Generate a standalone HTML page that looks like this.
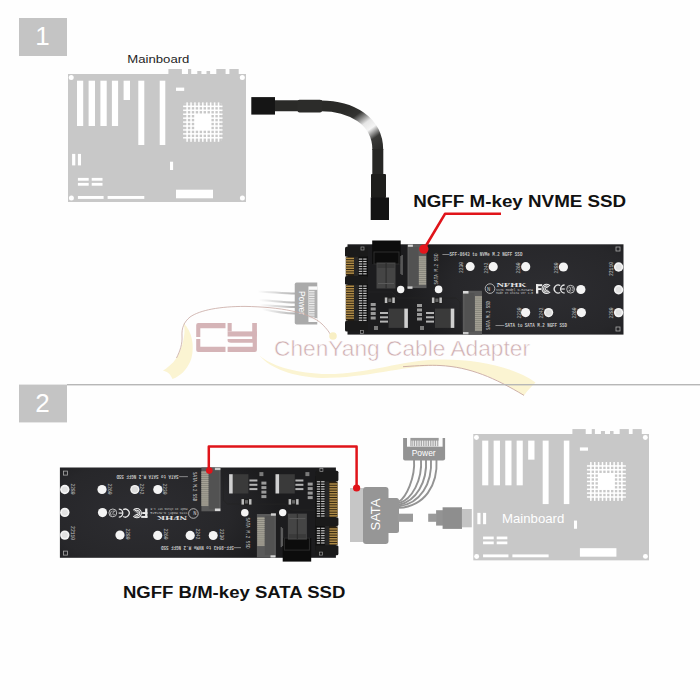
<!DOCTYPE html>
<html><head><meta charset="utf-8"><style>
html,body{margin:0;padding:0;background:#fefefe;}
body{width:700px;height:700px;overflow:hidden;position:relative;}
svg{position:absolute;left:0;top:0;display:block;}
</style></head><body>
<svg width="700" height="700" viewBox="0 0 700 700">
<defs>
<radialGradient id="pcbg" gradientUnits="userSpaceOnUse" cx="545" cy="289" r="140" gradientTransform="translate(545 289) scale(1 0.55) translate(-545 -289)">
<stop offset="0" stop-color="#2d2d31"/>
<stop offset="0.65" stop-color="#27272a"/>
<stop offset="1" stop-color="#1c1c1e"/>
</radialGradient>
<linearGradient id="wfade" x1="0" y1="0" x2="1" y2="0">
<stop offset="0" stop-color="#a0a0a0" stop-opacity="0"/>
<stop offset="1" stop-color="#a0a0a0" stop-opacity="1"/>
</linearGradient>
</defs>
<rect x="0" y="0" width="700" height="700" fill="#fefefe"/>

<!-- Section 1 -->
<rect x="19" y="18" width="48" height="38" fill="#c4c4c4"/>
<text x="42.5" y="45" font-size="26" font-family="Liberation Sans, sans-serif" fill="#ffffff" text-anchor="middle">1</text>
<text x="127.3" y="63" font-size="11.6" font-family="Liberation Sans, sans-serif" fill="#1e1e1e" textLength="62.1" lengthAdjust="spacingAndGlyphs">Mainboard</text>
<g transform="translate(68 74)">
<rect x="0.00" y="0.00" width="178.00" height="128.00" fill="#c8c8c8" />
<rect x="100.40" y="-5.00" width="13.50" height="5.50" fill="#c8c8c8" />
<rect x="120.00" y="-5.00" width="3.20" height="5.50" fill="#c8c8c8" />
<rect x="129.30" y="-3.00" width="4.10" height="3.50" fill="#c8c8c8" />
<rect x="138.50" y="-3.00" width="3.60" height="3.50" fill="#c8c8c8" />
<rect x="148.30" y="-5.00" width="9.30" height="5.50" fill="#c8c8c8" />
<rect x="161.40" y="-5.00" width="9.30" height="5.50" fill="#c8c8c8" />
<circle cx="3.2" cy="3.5" r="2.5" fill="#ffffff"/>
<circle cx="174.3" cy="3.5" r="2.5" fill="#ffffff"/>
<circle cx="3.4" cy="124.1" r="2.5" fill="#ffffff"/>
<circle cx="174.4" cy="124" r="2.5" fill="#ffffff"/>
<rect x="9.00" y="6.70" width="6.20" height="45.30" fill="#ffffff" />
<rect x="20.60" y="6.70" width="6.40" height="45.30" fill="#ffffff" />
<rect x="32.40" y="6.70" width="6.30" height="45.30" fill="#ffffff" />
<rect x="43.90" y="6.70" width="6.20" height="45.30" fill="#ffffff" />
<rect x="55.60" y="6.70" width="6.40" height="19.30" fill="#ffffff" />
<rect x="70.30" y="6.70" width="6.00" height="64.30" fill="#ffffff" />
<rect x="91.70" y="6.70" width="5.60" height="64.30" fill="#ffffff" />
<rect x="108.00" y="13.60" width="8.20" height="3.30" fill="#ffffff" />
<rect x="4.10" y="79.90" width="3.20" height="11.50" fill="#ffffff" />
<rect x="9.90" y="79.90" width="3.10" height="11.50" fill="#ffffff" />
<rect x="9.90" y="103.90" width="10.80" height="2.80" fill="#ffffff" />
<rect x="9.90" y="108.90" width="10.80" height="2.80" fill="#ffffff" />
<rect x="23.70" y="103.90" width="10.80" height="2.80" fill="#ffffff" />
<rect x="23.70" y="108.90" width="10.80" height="2.80" fill="#ffffff" />
<rect x="9.90" y="122.00" width="25.70" height="2.90" fill="#ffffff" />
<rect x="39.60" y="122.00" width="36.70" height="2.90" fill="#ffffff" />
<rect x="102.00" y="87.70" width="3.10" height="8.30" fill="#ffffff" />
<rect x="108.00" y="115.70" width="37.00" height="8.60" fill="#ffffff" />
<rect x="116.14" y="29.40" width="37.37" height="37.37" fill="#ffffff" />
<rect x="118.30" y="28.40" width="1.60" height="39.37" fill="#ffffff" />
<rect x="115.14" y="31.57" width="39.37" height="1.60" fill="#ffffff" />
<rect x="122.23" y="28.40" width="1.60" height="39.37" fill="#ffffff" />
<rect x="115.14" y="35.50" width="39.37" height="1.60" fill="#ffffff" />
<rect x="126.16" y="28.40" width="1.60" height="39.37" fill="#ffffff" />
<rect x="115.14" y="39.43" width="39.37" height="1.60" fill="#ffffff" />
<rect x="130.09" y="28.40" width="1.60" height="39.37" fill="#ffffff" />
<rect x="115.14" y="43.36" width="39.37" height="1.60" fill="#ffffff" />
<rect x="134.02" y="28.40" width="1.60" height="39.37" fill="#ffffff" />
<rect x="115.14" y="47.29" width="39.37" height="1.60" fill="#ffffff" />
<rect x="137.95" y="28.40" width="1.60" height="39.37" fill="#ffffff" />
<rect x="115.14" y="51.22" width="39.37" height="1.60" fill="#ffffff" />
<rect x="141.88" y="28.40" width="1.60" height="39.37" fill="#ffffff" />
<rect x="115.14" y="55.15" width="39.37" height="1.60" fill="#ffffff" />
<rect x="145.81" y="28.40" width="1.60" height="39.37" fill="#ffffff" />
<rect x="115.14" y="59.08" width="39.37" height="1.60" fill="#ffffff" />
<rect x="149.74" y="28.40" width="1.60" height="39.37" fill="#ffffff" />
<rect x="115.14" y="63.01" width="39.37" height="1.60" fill="#ffffff" />
<rect x="115.94" y="29.20" width="2.40" height="2.40" fill="#c8c8c8" />
<rect x="115.94" y="33.13" width="2.40" height="2.40" fill="#c8c8c8" />
<rect x="115.94" y="37.06" width="2.40" height="2.40" fill="#c8c8c8" />
<rect x="115.94" y="40.99" width="2.40" height="2.40" fill="#c8c8c8" />
<rect x="115.94" y="44.92" width="2.40" height="2.40" fill="#c8c8c8" />
<rect x="115.94" y="48.85" width="2.40" height="2.40" fill="#c8c8c8" />
<rect x="115.94" y="52.78" width="2.40" height="2.40" fill="#c8c8c8" />
<rect x="115.94" y="56.71" width="2.40" height="2.40" fill="#c8c8c8" />
<rect x="115.94" y="60.64" width="2.40" height="2.40" fill="#c8c8c8" />
<rect x="115.94" y="64.57" width="2.40" height="2.40" fill="#c8c8c8" />
<rect x="119.87" y="29.20" width="2.40" height="2.40" fill="#c8c8c8" />
<rect x="119.87" y="33.13" width="2.40" height="2.40" fill="#c8c8c8" />
<rect x="119.87" y="37.06" width="2.40" height="2.40" fill="#c8c8c8" />
<rect x="119.87" y="40.99" width="2.40" height="2.40" fill="#c8c8c8" />
<rect x="119.87" y="44.92" width="2.40" height="2.40" fill="#c8c8c8" />
<rect x="119.87" y="48.85" width="2.40" height="2.40" fill="#c8c8c8" />
<rect x="119.87" y="52.78" width="2.40" height="2.40" fill="#c8c8c8" />
<rect x="119.87" y="56.71" width="2.40" height="2.40" fill="#c8c8c8" />
<rect x="119.87" y="60.64" width="2.40" height="2.40" fill="#c8c8c8" />
<rect x="119.87" y="64.57" width="2.40" height="2.40" fill="#c8c8c8" />
<rect x="123.80" y="29.20" width="2.40" height="2.40" fill="#c8c8c8" />
<rect x="123.80" y="33.13" width="2.40" height="2.40" fill="#c8c8c8" />
<rect x="123.80" y="37.06" width="2.40" height="2.40" fill="#c8c8c8" />
<rect x="123.80" y="40.99" width="2.40" height="2.40" fill="#c8c8c8" />
<rect x="123.80" y="44.92" width="2.40" height="2.40" fill="#c8c8c8" />
<rect x="123.80" y="48.85" width="2.40" height="2.40" fill="#c8c8c8" />
<rect x="123.80" y="52.78" width="2.40" height="2.40" fill="#c8c8c8" />
<rect x="123.80" y="56.71" width="2.40" height="2.40" fill="#c8c8c8" />
<rect x="123.80" y="60.64" width="2.40" height="2.40" fill="#c8c8c8" />
<rect x="123.80" y="64.57" width="2.40" height="2.40" fill="#c8c8c8" />
<rect x="127.73" y="29.20" width="2.40" height="2.40" fill="#c8c8c8" />
<rect x="127.73" y="33.13" width="2.40" height="2.40" fill="#c8c8c8" />
<rect x="127.73" y="37.06" width="2.40" height="2.40" fill="#c8c8c8" />
<rect x="127.73" y="56.71" width="2.40" height="2.40" fill="#c8c8c8" />
<rect x="127.73" y="60.64" width="2.40" height="2.40" fill="#c8c8c8" />
<rect x="127.73" y="64.57" width="2.40" height="2.40" fill="#c8c8c8" />
<rect x="131.66" y="29.20" width="2.40" height="2.40" fill="#c8c8c8" />
<rect x="131.66" y="33.13" width="2.40" height="2.40" fill="#c8c8c8" />
<rect x="131.66" y="37.06" width="2.40" height="2.40" fill="#c8c8c8" />
<rect x="131.66" y="56.71" width="2.40" height="2.40" fill="#c8c8c8" />
<rect x="131.66" y="60.64" width="2.40" height="2.40" fill="#c8c8c8" />
<rect x="131.66" y="64.57" width="2.40" height="2.40" fill="#c8c8c8" />
<rect x="135.59" y="29.20" width="2.40" height="2.40" fill="#c8c8c8" />
<rect x="135.59" y="33.13" width="2.40" height="2.40" fill="#c8c8c8" />
<rect x="135.59" y="37.06" width="2.40" height="2.40" fill="#c8c8c8" />
<rect x="135.59" y="56.71" width="2.40" height="2.40" fill="#c8c8c8" />
<rect x="135.59" y="60.64" width="2.40" height="2.40" fill="#c8c8c8" />
<rect x="135.59" y="64.57" width="2.40" height="2.40" fill="#c8c8c8" />
<rect x="139.52" y="29.20" width="2.40" height="2.40" fill="#c8c8c8" />
<rect x="139.52" y="33.13" width="2.40" height="2.40" fill="#c8c8c8" />
<rect x="139.52" y="37.06" width="2.40" height="2.40" fill="#c8c8c8" />
<rect x="139.52" y="56.71" width="2.40" height="2.40" fill="#c8c8c8" />
<rect x="139.52" y="60.64" width="2.40" height="2.40" fill="#c8c8c8" />
<rect x="139.52" y="64.57" width="2.40" height="2.40" fill="#c8c8c8" />
<rect x="143.45" y="29.20" width="2.40" height="2.40" fill="#c8c8c8" />
<rect x="143.45" y="33.13" width="2.40" height="2.40" fill="#c8c8c8" />
<rect x="143.45" y="37.06" width="2.40" height="2.40" fill="#c8c8c8" />
<rect x="143.45" y="40.99" width="2.40" height="2.40" fill="#c8c8c8" />
<rect x="143.45" y="44.92" width="2.40" height="2.40" fill="#c8c8c8" />
<rect x="143.45" y="48.85" width="2.40" height="2.40" fill="#c8c8c8" />
<rect x="143.45" y="52.78" width="2.40" height="2.40" fill="#c8c8c8" />
<rect x="143.45" y="56.71" width="2.40" height="2.40" fill="#c8c8c8" />
<rect x="143.45" y="60.64" width="2.40" height="2.40" fill="#c8c8c8" />
<rect x="143.45" y="64.57" width="2.40" height="2.40" fill="#c8c8c8" />
<rect x="147.38" y="29.20" width="2.40" height="2.40" fill="#c8c8c8" />
<rect x="147.38" y="33.13" width="2.40" height="2.40" fill="#c8c8c8" />
<rect x="147.38" y="37.06" width="2.40" height="2.40" fill="#c8c8c8" />
<rect x="147.38" y="40.99" width="2.40" height="2.40" fill="#c8c8c8" />
<rect x="147.38" y="44.92" width="2.40" height="2.40" fill="#c8c8c8" />
<rect x="147.38" y="48.85" width="2.40" height="2.40" fill="#c8c8c8" />
<rect x="147.38" y="52.78" width="2.40" height="2.40" fill="#c8c8c8" />
<rect x="147.38" y="56.71" width="2.40" height="2.40" fill="#c8c8c8" />
<rect x="147.38" y="60.64" width="2.40" height="2.40" fill="#c8c8c8" />
<rect x="147.38" y="64.57" width="2.40" height="2.40" fill="#c8c8c8" />
<rect x="151.31" y="29.20" width="2.40" height="2.40" fill="#c8c8c8" />
<rect x="151.31" y="33.13" width="2.40" height="2.40" fill="#c8c8c8" />
<rect x="151.31" y="37.06" width="2.40" height="2.40" fill="#c8c8c8" />
<rect x="151.31" y="40.99" width="2.40" height="2.40" fill="#c8c8c8" />
<rect x="151.31" y="44.92" width="2.40" height="2.40" fill="#c8c8c8" />
<rect x="151.31" y="48.85" width="2.40" height="2.40" fill="#c8c8c8" />
<rect x="151.31" y="52.78" width="2.40" height="2.40" fill="#c8c8c8" />
<rect x="151.31" y="56.71" width="2.40" height="2.40" fill="#c8c8c8" />
<rect x="151.31" y="60.64" width="2.40" height="2.40" fill="#c8c8c8" />
<rect x="151.31" y="64.57" width="2.40" height="2.40" fill="#c8c8c8" />
</g>

<!-- cable -->
<linearGradient id="hl" gradientUnits="userSpaceOnUse" x1="350" y1="106" x2="382" y2="150">
<stop offset="0" stop-color="#2a2a28"/>
<stop offset="0.2" stop-color="#333331"/>
<stop offset="0.42" stop-color="#e6e6e6"/>
<stop offset="0.56" stop-color="#f4f4f4"/>
<stop offset="0.74" stop-color="#3a3a38"/>
<stop offset="1" stop-color="#272725"/>
</linearGradient>
<path d="M272 105.8 L322 105.8" stroke="#2a2a28" stroke-width="11" fill="none"/>
<path d="M321 105.8 C350 105.8 377.8 120 377.8 150" stroke="url(#hl)" stroke-width="10.8" fill="none"/>
<path d="M377.8 149 L377.8 176" stroke="#272725" stroke-width="11" fill="none"/>
<rect x="297.5" y="99.7" width="24.5" height="12.8" rx="2" fill="#2c2c2a"/>
<rect x="371" y="174" width="15" height="24" rx="1" fill="#1e1e1c"/>
<rect x="251.3" y="97.1" width="23.7" height="17.5" fill="#151515"/>
<rect x="370.7" y="197.5" width="18.3" height="22.5" fill="#131313"/>
<!-- heading 1 -->
<text x="413.2" y="207.4" font-size="17.2" font-weight="bold" font-family="Liberation Sans, sans-serif" fill="#111" textLength="213" lengthAdjust="spacingAndGlyphs">NGFF M-key NVME SSD</text>

<!-- power conn 1 -->
<g opacity="0.78">
<path d="M258 291.5 C272 292 284 293.5 295 293.5" stroke="url(#wfade)" stroke-width="2" fill="none"/>
<path d="M259 300 C274 301 285 302.5 295 302.5" stroke="url(#wfade)" stroke-width="2" fill="none"/>
<path d="M260 305 C275 306 285 307 295 307" stroke="url(#wfade)" stroke-width="2" fill="none"/>
<path d="M262 309 C276 312 286 313.5 295 313.5" stroke="url(#wfade)" stroke-width="2" fill="none"/>
<g transform="translate(306 303.5) rotate(90) translate(-424.1 -449.15)">
<path d="M403.1 437.9 L445.1 437.9 L445.1 458.5 Q445.1 460.4 443 460.4 L405 460.4 Q403.1 460.4 403.1 458.5 Z" fill="#939393"/>
<rect x="407" y="437.9" width="35.6" height="8.8" fill="#fafafa"/>
<rect x="410.4" y="437.9" width="28.3" height="8.4" fill="#9a9a9a"/>
<rect x="411.50" y="440.6" width="0.9" height="5.6" fill="#f2f2f2"/>
<rect x="413.25" y="440.6" width="0.9" height="5.6" fill="#f2f2f2"/>
<rect x="415.00" y="440.6" width="0.9" height="5.6" fill="#f2f2f2"/>
<rect x="416.75" y="440.6" width="0.9" height="5.6" fill="#f2f2f2"/>
<rect x="418.50" y="440.6" width="0.9" height="5.6" fill="#f2f2f2"/>
<rect x="420.25" y="440.6" width="0.9" height="5.6" fill="#f2f2f2"/>
<rect x="422.00" y="440.6" width="0.9" height="5.6" fill="#f2f2f2"/>
<rect x="423.75" y="440.6" width="0.9" height="5.6" fill="#f2f2f2"/>
<rect x="425.50" y="440.6" width="0.9" height="5.6" fill="#f2f2f2"/>
<rect x="427.25" y="440.6" width="0.9" height="5.6" fill="#f2f2f2"/>
<rect x="429.00" y="440.6" width="0.9" height="5.6" fill="#f2f2f2"/>
<rect x="430.75" y="440.6" width="0.9" height="5.6" fill="#f2f2f2"/>
<rect x="432.50" y="440.6" width="0.9" height="5.6" fill="#f2f2f2"/>
<rect x="434.25" y="440.6" width="0.9" height="5.6" fill="#f2f2f2"/>
<rect x="436.00" y="440.6" width="0.9" height="5.6" fill="#f2f2f2"/>
<rect x="437.75" y="440.6" width="0.9" height="5.6" fill="#f2f2f2"/>
<text x="411.7" y="456.1" font-size="8.4" font-family="Liberation Sans, sans-serif" fill="#ffffff" textLength="24" lengthAdjust="spacingAndGlyphs">Power</text>
</g>
</g>
<!-- PCB 1 -->
<g>
<rect x="347.50" y="244.30" width="276.00" height="90.30" fill="url(#pcbg)" />
<path d="M349 292 L392 292 L398 298 L456 298 L460 302 L460 334" stroke="#242424" stroke-width="0.8" fill="none"/>
<rect x="353.80" y="252.00" width="14.20" height="74.00" fill="#0e0e0e" />
<rect x="354.00" y="256.00" width="4.30" height="65.00" fill="#262626" />
<rect x="345.00" y="246.80" width="23.00" height="10.00" fill="#1a1a1a" rx="1.5"/>
<rect x="345.00" y="276.00" width="23.00" height="8.80" fill="#1a1a1a" rx="1.5"/>
<rect x="345.00" y="320.80" width="23.00" height="10.60" fill="#1a1a1a" rx="1.5"/>
<rect x="345.80" y="257.20" width="8.20" height="18.60" fill="#2a2010" />
<rect x="345.80" y="257.70" width="8.20" height="1.50" fill="#b08c48" />
<rect x="345.80" y="260.15" width="8.20" height="1.50" fill="#b08c48" />
<rect x="345.80" y="262.60" width="8.20" height="1.50" fill="#b08c48" />
<rect x="345.80" y="265.05" width="8.20" height="1.50" fill="#b08c48" />
<rect x="345.80" y="267.50" width="8.20" height="1.50" fill="#b08c48" />
<rect x="345.80" y="269.95" width="8.20" height="1.50" fill="#b08c48" />
<rect x="345.80" y="272.40" width="8.20" height="1.50" fill="#b08c48" />
<rect x="345.80" y="285.00" width="8.20" height="35.60" fill="#2a2010" />
<rect x="345.80" y="285.50" width="8.20" height="1.50" fill="#b08c48" />
<rect x="345.80" y="287.95" width="8.20" height="1.50" fill="#b08c48" />
<rect x="345.80" y="290.40" width="8.20" height="1.50" fill="#b08c48" />
<rect x="345.80" y="292.85" width="8.20" height="1.50" fill="#b08c48" />
<rect x="345.80" y="295.30" width="8.20" height="1.50" fill="#b08c48" />
<rect x="345.80" y="297.75" width="8.20" height="1.50" fill="#b08c48" />
<rect x="345.80" y="300.20" width="8.20" height="1.50" fill="#b08c48" />
<rect x="345.80" y="302.65" width="8.20" height="1.50" fill="#b08c48" />
<rect x="345.80" y="305.10" width="8.20" height="1.50" fill="#b08c48" />
<rect x="345.80" y="307.55" width="8.20" height="1.50" fill="#b08c48" />
<rect x="345.80" y="310.00" width="8.20" height="1.50" fill="#b08c48" />
<rect x="345.80" y="312.45" width="8.20" height="1.50" fill="#b08c48" />
<rect x="345.80" y="314.90" width="8.20" height="1.50" fill="#b08c48" />
<rect x="345.80" y="317.35" width="8.20" height="1.50" fill="#b08c48" />
<rect x="358.80" y="258.50" width="3.50" height="1.20" fill="#c4c4c4" />
<rect x="363.20" y="258.50" width="3.40" height="1.20" fill="#c4c4c4" />
<rect x="358.80" y="260.95" width="3.50" height="1.20" fill="#c4c4c4" />
<rect x="363.20" y="260.95" width="3.40" height="1.20" fill="#c4c4c4" />
<rect x="358.80" y="263.40" width="3.50" height="1.20" fill="#c4c4c4" />
<rect x="363.20" y="263.40" width="3.40" height="1.20" fill="#c4c4c4" />
<rect x="358.80" y="265.85" width="3.50" height="1.20" fill="#c4c4c4" />
<rect x="363.20" y="265.85" width="3.40" height="1.20" fill="#c4c4c4" />
<rect x="358.80" y="268.30" width="3.50" height="1.20" fill="#c4c4c4" />
<rect x="363.20" y="268.30" width="3.40" height="1.20" fill="#c4c4c4" />
<rect x="358.80" y="270.75" width="3.50" height="1.20" fill="#c4c4c4" />
<rect x="363.20" y="270.75" width="3.40" height="1.20" fill="#c4c4c4" />
<rect x="358.80" y="273.20" width="3.50" height="1.20" fill="#c4c4c4" />
<rect x="363.20" y="273.20" width="3.40" height="1.20" fill="#c4c4c4" />
<rect x="358.80" y="285.45" width="3.50" height="1.20" fill="#c4c4c4" />
<rect x="363.20" y="285.45" width="3.40" height="1.20" fill="#c4c4c4" />
<rect x="358.80" y="287.90" width="3.50" height="1.20" fill="#c4c4c4" />
<rect x="363.20" y="287.90" width="3.40" height="1.20" fill="#c4c4c4" />
<rect x="358.80" y="290.35" width="3.50" height="1.20" fill="#c4c4c4" />
<rect x="363.20" y="290.35" width="3.40" height="1.20" fill="#c4c4c4" />
<rect x="358.80" y="292.80" width="3.50" height="1.20" fill="#c4c4c4" />
<rect x="363.20" y="292.80" width="3.40" height="1.20" fill="#c4c4c4" />
<rect x="358.80" y="295.25" width="3.50" height="1.20" fill="#c4c4c4" />
<rect x="363.20" y="295.25" width="3.40" height="1.20" fill="#c4c4c4" />
<rect x="358.80" y="297.70" width="3.50" height="1.20" fill="#c4c4c4" />
<rect x="363.20" y="297.70" width="3.40" height="1.20" fill="#c4c4c4" />
<rect x="358.80" y="300.15" width="3.50" height="1.20" fill="#c4c4c4" />
<rect x="363.20" y="300.15" width="3.40" height="1.20" fill="#c4c4c4" />
<rect x="358.80" y="302.60" width="3.50" height="1.20" fill="#c4c4c4" />
<rect x="363.20" y="302.60" width="3.40" height="1.20" fill="#c4c4c4" />
<rect x="358.80" y="305.05" width="3.50" height="1.20" fill="#c4c4c4" />
<rect x="363.20" y="305.05" width="3.40" height="1.20" fill="#c4c4c4" />
<rect x="358.80" y="307.50" width="3.50" height="1.20" fill="#c4c4c4" />
<rect x="363.20" y="307.50" width="3.40" height="1.20" fill="#c4c4c4" />
<rect x="358.80" y="309.95" width="3.50" height="1.20" fill="#c4c4c4" />
<rect x="363.20" y="309.95" width="3.40" height="1.20" fill="#c4c4c4" />
<rect x="358.80" y="312.40" width="3.50" height="1.20" fill="#c4c4c4" />
<rect x="363.20" y="312.40" width="3.40" height="1.20" fill="#c4c4c4" />
<rect x="358.80" y="314.85" width="3.50" height="1.20" fill="#c4c4c4" />
<rect x="363.20" y="314.85" width="3.40" height="1.20" fill="#c4c4c4" />
<rect x="358.80" y="317.30" width="3.50" height="1.20" fill="#c4c4c4" />
<rect x="363.20" y="317.30" width="3.40" height="1.20" fill="#c4c4c4" />
<rect x="358.80" y="319.75" width="3.50" height="1.20" fill="#c4c4c4" />
<rect x="363.20" y="319.75" width="3.40" height="1.20" fill="#c4c4c4" />
<rect x="361.00" y="247.00" width="3.00" height="3.00" fill="none" stroke="#999" stroke-width="0.7"/>
<rect x="360.50" y="330.50" width="3.00" height="3.00" fill="none" stroke="#999" stroke-width="0.7"/>
<rect x="372.20" y="240.50" width="28.50" height="23.50" fill="#0c0c0c" />
<rect x="374.00" y="252.00" width="25.00" height="12.00" fill="none" stroke="#2c2c2c" stroke-width="1"/>
<rect x="376.50" y="262.50" width="19.00" height="26.00" fill="#454545" />
<rect x="377.50" y="264.00" width="17.00" height="4.00" fill="#3a3a3a" />
<rect x="385.60" y="263.00" width="1.00" height="25.50" fill="#2a2a2a" />
<rect x="378.00" y="283.00" width="16.00" height="1.00" fill="#5a5a5a" />
<rect x="401.50" y="255.00" width="1.20" height="20.00" fill="#6a6a6a" />
<rect x="407.50" y="244.60" width="19.00" height="43.50" fill="#5a5a5a" />
<rect x="409.00" y="247.00" width="9.50" height="39.00" fill="#525252" />
<rect x="418.90" y="256.00" width="7.20" height="29.00" fill="#8a887e" />
<rect x="418.90" y="256.60" width="7.20" height="0.90" fill="#aaa69a" />
<rect x="418.90" y="258.65" width="7.20" height="0.90" fill="#aaa69a" />
<rect x="418.90" y="260.70" width="7.20" height="0.90" fill="#aaa69a" />
<rect x="418.90" y="262.75" width="7.20" height="0.90" fill="#aaa69a" />
<rect x="418.90" y="264.80" width="7.20" height="0.90" fill="#aaa69a" />
<rect x="418.90" y="266.85" width="7.20" height="0.90" fill="#aaa69a" />
<rect x="418.90" y="268.90" width="7.20" height="0.90" fill="#aaa69a" />
<rect x="418.90" y="270.95" width="7.20" height="0.90" fill="#aaa69a" />
<rect x="418.90" y="273.00" width="7.20" height="0.90" fill="#aaa69a" />
<rect x="418.90" y="275.05" width="7.20" height="0.90" fill="#aaa69a" />
<rect x="418.90" y="277.10" width="7.20" height="0.90" fill="#aaa69a" />
<rect x="418.90" y="279.15" width="7.20" height="0.90" fill="#aaa69a" />
<rect x="418.90" y="281.20" width="7.20" height="0.90" fill="#aaa69a" />
<rect x="418.90" y="283.25" width="7.20" height="0.90" fill="#aaa69a" />
<rect x="407.90" y="244.60" width="5.00" height="2.20" fill="#d8d8d8" />
<rect x="407.50" y="286.40" width="5.00" height="2.40" fill="#d0d0d0" />
<rect x="462.80" y="290.80" width="19.20" height="43.80" fill="#5a5a5a" />
<rect x="464.50" y="293.00" width="10.00" height="39.00" fill="#525252" />
<rect x="475.00" y="296.00" width="7.00" height="35.00" fill="#8a887e" />
<rect x="475.00" y="296.60" width="7.00" height="0.90" fill="#aaa69a" />
<rect x="475.00" y="298.65" width="7.00" height="0.90" fill="#aaa69a" />
<rect x="475.00" y="300.70" width="7.00" height="0.90" fill="#aaa69a" />
<rect x="475.00" y="302.75" width="7.00" height="0.90" fill="#aaa69a" />
<rect x="475.00" y="304.80" width="7.00" height="0.90" fill="#aaa69a" />
<rect x="475.00" y="306.85" width="7.00" height="0.90" fill="#aaa69a" />
<rect x="475.00" y="308.90" width="7.00" height="0.90" fill="#aaa69a" />
<rect x="475.00" y="310.95" width="7.00" height="0.90" fill="#aaa69a" />
<rect x="475.00" y="313.00" width="7.00" height="0.90" fill="#aaa69a" />
<rect x="475.00" y="315.05" width="7.00" height="0.90" fill="#aaa69a" />
<rect x="475.00" y="317.10" width="7.00" height="0.90" fill="#aaa69a" />
<rect x="475.00" y="319.15" width="7.00" height="0.90" fill="#aaa69a" />
<rect x="475.00" y="321.20" width="7.00" height="0.90" fill="#aaa69a" />
<rect x="475.00" y="323.25" width="7.00" height="0.90" fill="#aaa69a" />
<rect x="475.00" y="325.30" width="7.00" height="0.90" fill="#aaa69a" />
<rect x="475.00" y="327.35" width="7.00" height="0.90" fill="#aaa69a" />
<rect x="475.00" y="329.40" width="7.00" height="0.90" fill="#aaa69a" />
<rect x="463.00" y="291.00" width="5.50" height="2.60" fill="#d8d8d8" />
<rect x="463.00" y="332.00" width="5.50" height="2.40" fill="#c8c8c8" />
<rect x="400.30" y="256.00" width="1.60" height="18.00" fill="#5a5a5a" />
<rect x="388.60" y="308.60" width="15.70" height="19.30" fill="#3a3a3a" />
<rect x="404.30" y="308.60" width="3.60" height="19.30" fill="#d0d0d0" />
<rect x="435.00" y="308.60" width="15.70" height="19.30" fill="#3a3a3a" />
<rect x="450.70" y="308.60" width="3.60" height="19.30" fill="#d0d0d0" />
<rect x="384.30" y="297.00" width="11.00" height="6.50" fill="#202020" />
<rect x="384.80" y="297.50" width="2.50" height="5.50" fill="#bdbdbd" />
<rect x="392.30" y="297.50" width="2.50" height="5.50" fill="#bdbdbd" />
<rect x="388.30" y="298.50" width="3.00" height="3.50" fill="#666" />
<rect x="431.40" y="297.00" width="11.00" height="6.50" fill="#202020" />
<rect x="431.90" y="297.50" width="2.50" height="5.50" fill="#bdbdbd" />
<rect x="439.40" y="297.50" width="2.50" height="5.50" fill="#bdbdbd" />
<rect x="435.40" y="298.50" width="3.00" height="3.50" fill="#666" />
<rect x="380.00" y="312.00" width="8.00" height="2.00" fill="#b4b4b4" />
<rect x="380.00" y="316.30" width="8.00" height="2.00" fill="#b4b4b4" />
<rect x="380.00" y="320.60" width="8.00" height="2.00" fill="#b4b4b4" />
<rect x="426.00" y="312.00" width="8.00" height="2.00" fill="#b4b4b4" />
<rect x="426.00" y="316.30" width="8.00" height="2.00" fill="#b4b4b4" />
<rect x="426.00" y="320.60" width="8.00" height="2.00" fill="#b4b4b4" />
<rect x="370.70" y="303.00" width="5.00" height="3.00" fill="#9a9a9a" />
<rect x="370.70" y="307.50" width="5.00" height="3.00" fill="#9a9a9a" />
<rect x="370.70" y="312.00" width="5.00" height="3.00" fill="#9a9a9a" />
<rect x="370.70" y="316.50" width="5.00" height="3.00" fill="#9a9a9a" />
<rect x="417.00" y="304.00" width="5.00" height="3.00" fill="#9a9a9a" />
<rect x="417.00" y="308.50" width="5.00" height="3.00" fill="#9a9a9a" />
<rect x="417.00" y="313.00" width="5.00" height="3.00" fill="#9a9a9a" />
<rect x="417.00" y="317.50" width="5.00" height="3.00" fill="#9a9a9a" />
<rect x="374.00" y="326.00" width="4.00" height="4.00" fill="#7a7a7a" />
<rect x="420.00" y="326.00" width="4.00" height="4.00" fill="#7a7a7a" />
<circle cx="470.2" cy="266.6" r="4.5" fill="#f4f4f4"/>
<circle cx="493.2" cy="266.7" r="4.6" fill="#f4f4f4"/>
<circle cx="525.7" cy="266.7" r="4.6" fill="#f4f4f4"/>
<circle cx="563.4" cy="267" r="4.6" fill="#f4f4f4"/>
<circle cx="618.6" cy="267.0" r="4.7" fill="#f4f4f4"/>
<circle cx="580.9" cy="289.5" r="4.6" fill="#f4f4f4"/>
<circle cx="618.6" cy="289.7" r="4.7" fill="#f4f4f4"/>
<circle cx="525.6" cy="312.6" r="4.6" fill="#f4f4f4"/>
<circle cx="548.6" cy="312.6" r="4.6" fill="#f4f4f4"/>
<circle cx="581.4" cy="312.6" r="4.6" fill="#f4f4f4"/>
<circle cx="618.6" cy="312.6" r="4.7" fill="#f4f4f4"/>
<circle cx="400.7" cy="289.5" r="3.7" fill="#f4f4f4"/>
<circle cx="438.6" cy="289.4" r="3.8" fill="#f4f4f4"/>
<circle cx="548.6" cy="312.6" r="3.2" fill="#dcdcdc"/>
<circle cx="618.6" cy="267.0" r="3.0" fill="#e2e2e2"/>
<circle cx="618.6" cy="289.7" r="3.0" fill="#e2e2e2"/>
<circle cx="618.6" cy="312.6" r="3.0" fill="#e2e2e2"/>
<rect x="616.00" y="247.00" width="4.00" height="4.00" fill="none" stroke="#aaa" stroke-width="0.8"/>
<rect x="616.00" y="327.00" width="4.00" height="4.00" fill="none" stroke="#aaa" stroke-width="0.8"/>
<rect x="442.40" y="254.00" width="7.20" height="0.70" fill="#b0b0b0" />
<text x="449.6" y="256.3" font-size="5.6" font-family="Liberation Mono, monospace" fill="#c8c8c8" font-weight="bold" textLength="72.8" lengthAdjust="spacingAndGlyphs">SFF-8643 to NVMe M.2 NGFF SSD</text>
<rect x="495.50" y="325.00" width="8.80" height="0.70" fill="#b0b0b0" />
<text x="505" y="327.3" font-size="5.6" font-family="Liberation Mono, monospace" fill="#c8c8c8" font-weight="bold" textLength="62" lengthAdjust="spacingAndGlyphs">SATA to SATA M.2 NGFF SSD</text>
<text transform="translate(463.2 273) rotate(-90)" font-size="4.6" font-family="Liberation Mono, monospace" fill="#c8c8c8" textLength="11" lengthAdjust="spacingAndGlyphs">2230</text>
<text transform="translate(487.6 273.5) rotate(-90)" font-size="4.6" font-family="Liberation Mono, monospace" fill="#c8c8c8" textLength="11" lengthAdjust="spacingAndGlyphs">2242</text>
<text transform="translate(519.8 273.5) rotate(-90)" font-size="4.6" font-family="Liberation Mono, monospace" fill="#c8c8c8" textLength="11" lengthAdjust="spacingAndGlyphs">2260</text>
<text transform="translate(557.6 273.5) rotate(-90)" font-size="4.6" font-family="Liberation Mono, monospace" fill="#c8c8c8" textLength="11" lengthAdjust="spacingAndGlyphs">2280</text>
<text transform="translate(612.8 276) rotate(-90)" font-size="4.6" font-family="Liberation Mono, monospace" fill="#c8c8c8" textLength="14" lengthAdjust="spacingAndGlyphs">22110</text>
<text transform="translate(520.5 318.5) rotate(-90)" font-size="4.6" font-family="Liberation Mono, monospace" fill="#c8c8c8" textLength="11" lengthAdjust="spacingAndGlyphs">2230</text>
<text transform="translate(543 318.5) rotate(-90)" font-size="4.6" font-family="Liberation Mono, monospace" fill="#c8c8c8" textLength="11" lengthAdjust="spacingAndGlyphs">2242</text>
<text transform="translate(575.7 318.5) rotate(-90)" font-size="4.6" font-family="Liberation Mono, monospace" fill="#c8c8c8" textLength="11" lengthAdjust="spacingAndGlyphs">2260</text>
<text transform="translate(612.8 318.5) rotate(-90)" font-size="4.6" font-family="Liberation Mono, monospace" fill="#c8c8c8" textLength="11" lengthAdjust="spacingAndGlyphs">2280</text>
<text transform="translate(437.5 284.5) rotate(-90)" font-size="4.6" font-family="Liberation Mono, monospace" fill="#c8c8c8" textLength="31" lengthAdjust="spacingAndGlyphs">SATA M.2 SSD</text>
<text transform="translate(490 330) rotate(-90)" font-size="4.6" font-family="Liberation Mono, monospace" fill="#c8c8c8" textLength="29" lengthAdjust="spacingAndGlyphs">SATA M.2 SSD</text>
<circle cx="490" cy="288.6" r="4.8" fill="none" stroke="#cfcfcf" stroke-width="0.8"/>
<text x="487" y="291" font-size="5.5" font-family="Liberation Mono, monospace" fill="#c8c8c8">N</text>
<text x="496.4" y="286.6" font-size="5.2" font-family="Liberation Serif, serif" font-weight="bold" fill="#e0e0e0" textLength="30" lengthAdjust="spacingAndGlyphs">NFHK</text>
<text x="496" y="290.6" font-size="3.8" font-family="Liberation Mono, monospace" fill="#c8c8c8" textLength="37" lengthAdjust="spacingAndGlyphs">SSTK Model N-M2SATA</text>
<text x="496" y="294.3" font-size="3.8" font-family="Liberation Mono, monospace" fill="#c8c8c8" textLength="37" lengthAdjust="spacingAndGlyphs">Made In China Ver 1.0</text>
<rect x="536.00" y="284.20" width="2.30" height="9.40" fill="#ececec" />
<rect x="536.00" y="284.20" width="6.20" height="2.00" fill="#ececec" />
<rect x="536.00" y="288.10" width="5.20" height="1.90" fill="#ececec" />
<path d="M550.12 285.94 A4.6 4.6 0 1 0 550.12 291.86" stroke="#ececec" stroke-width="1.05" fill="none"/>
<path d="M548.90 286.97 A3.0 3.0 0 1 0 548.90 290.83" stroke="#ececec" stroke-width="1.05" fill="none"/>
<path d="M547.71 287.97 A1.45 1.45 0 1 0 547.71 289.83" stroke="#ececec" stroke-width="1.05" fill="none"/>
<path d="M560.20 285.54 A4.0 4.0 0 1 0 560.20 292.46" stroke="#e8e8e8" stroke-width="1.3" fill="none"/>
<path d="M564.60 285.00 A4.0 4.0 0 0 0 564.60 293.00" stroke="#e8e8e8" stroke-width="1.3" fill="none"/>
<rect x="561.20" y="288.40" width="3.60" height="1.20" fill="#e8e8e8" />
<circle cx="570.6" cy="289.2" r="3.9" fill="none" stroke="#d0d0d0" stroke-width="0.9"/>
<path d="M568.5 288 Q570 286 570.6 288 Q571 290 568.6 291 L571 291 M571.5 287 Q573.5 287 573 289.5 Q572.5 291.5 571.5 290" stroke="#d0d0d0" stroke-width="0.7" fill="none"/>
</g>
<!-- red pointer 1 -->
<path d="M501 213.8 L445 213.8 L424 249" stroke="#e0141a" stroke-width="2.6" fill="none" stroke-linejoin="round"/>
<circle cx="423.8" cy="249.1" r="4.7" fill="#e3161c"/>

<!-- watermark -->
<g>
<path d="M183.4 323 C187 334 181 351 176.5 358 C172.5 364 167 368 162.9 370.7 C166.5 371 170.5 373.5 172.5 379 C181 376 188.5 368 191.5 358 C194.5 346 192.5 332 183.4 323 Z" fill="#fbf4d2"/>
<path d="M259.5 355.5 C272 366 292 372 322 374 C368 375 400 360 440 359.5 C480 359 515 368 535.5 382.5 C532 386 528 390 524 395.4 C505 384 480 368 440 365.5 C400 366 368 378 322 378 C292 377 270 368 259.5 355.5 Z" fill="#fbf4d2"/>
<path d="M176.5 358 C180 351 182.5 344 182 336 C181.5 328 184 322 190 317 C200 310 220 306.4 245 306.4 C280 307 309 312 322 324 C327 329 330 333 331 336" stroke="#c8a8a2" stroke-width="0.8" fill="none"/>
<path d="M403 366.7 C420 365.5 430 365 440 365.5 C470 367 495 378 524 395.4" stroke="#c8a8a2" stroke-width="0.9" fill="none"/>
<circle cx="333" cy="336" r="3.8" fill="#f8efc4"/>
<g fill="#d5b4b7">
<path d="M198.2 323.1 L225.5 323.1 L225.5 328.3 L200.3 328.3 L200.3 337 L196.2 337 L196.2 325.1 Q196.2 323.1 198.2 323.1 Z"/>
<path d="M196.2 339 L200.3 339 L200.3 346.8 L225.5 346.8 L225.5 352 L198.2 352 Q196.2 352 196.2 350 Z"/>
<rect x="227.6" y="323" width="4.1" height="8.4"/>
<rect x="227.6" y="331.4" width="29.3" height="5.1"/>
<path d="M252.2 323 L256.9 323 L256.9 350 Q256.9 352 254.9 352 L227.6 352 L227.6 346.8 L252.7 346.8 L252.7 342.7 L231 342.7 Q227.6 342.7 227.6 340.5 L227.6 339 L252.2 339 Z"/>
</g>
<text x="274" y="355.7" font-size="22" font-family="Liberation Sans, sans-serif" fill="#cfaeb1" stroke="#fefefe" stroke-width="0.5" textLength="256" lengthAdjust="spacingAndGlyphs">ChenYang Cable Adapter</text>
</g>

<!-- separator -->
<rect x="67" y="384.05" width="633" height="1.35" fill="#b4b4b4"/>

<!-- Section 2 -->
<rect x="19" y="384.6" width="48" height="37.8" fill="#c4c4c4"/>
<text x="42.5" y="412.0" font-size="26" font-family="Liberation Sans, sans-serif" fill="#ffffff" text-anchor="middle">2</text>

<g transform="rotate(180 341.7 401.05)">
<rect x="347.50" y="244.30" width="276.00" height="90.30" fill="url(#pcbg)" />
<path d="M349 292 L392 292 L398 298 L456 298 L460 302 L460 334" stroke="#242424" stroke-width="0.8" fill="none"/>
<rect x="353.80" y="252.00" width="14.20" height="74.00" fill="#0e0e0e" />
<rect x="354.00" y="256.00" width="4.30" height="65.00" fill="#262626" />
<rect x="345.00" y="246.80" width="23.00" height="10.00" fill="#1a1a1a" rx="1.5"/>
<rect x="345.00" y="276.00" width="23.00" height="8.80" fill="#1a1a1a" rx="1.5"/>
<rect x="345.00" y="320.80" width="23.00" height="10.60" fill="#1a1a1a" rx="1.5"/>
<rect x="345.80" y="257.20" width="8.20" height="18.60" fill="#2a2010" />
<rect x="345.80" y="257.70" width="8.20" height="1.50" fill="#b08c48" />
<rect x="345.80" y="260.15" width="8.20" height="1.50" fill="#b08c48" />
<rect x="345.80" y="262.60" width="8.20" height="1.50" fill="#b08c48" />
<rect x="345.80" y="265.05" width="8.20" height="1.50" fill="#b08c48" />
<rect x="345.80" y="267.50" width="8.20" height="1.50" fill="#b08c48" />
<rect x="345.80" y="269.95" width="8.20" height="1.50" fill="#b08c48" />
<rect x="345.80" y="272.40" width="8.20" height="1.50" fill="#b08c48" />
<rect x="345.80" y="285.00" width="8.20" height="35.60" fill="#2a2010" />
<rect x="345.80" y="285.50" width="8.20" height="1.50" fill="#b08c48" />
<rect x="345.80" y="287.95" width="8.20" height="1.50" fill="#b08c48" />
<rect x="345.80" y="290.40" width="8.20" height="1.50" fill="#b08c48" />
<rect x="345.80" y="292.85" width="8.20" height="1.50" fill="#b08c48" />
<rect x="345.80" y="295.30" width="8.20" height="1.50" fill="#b08c48" />
<rect x="345.80" y="297.75" width="8.20" height="1.50" fill="#b08c48" />
<rect x="345.80" y="300.20" width="8.20" height="1.50" fill="#b08c48" />
<rect x="345.80" y="302.65" width="8.20" height="1.50" fill="#b08c48" />
<rect x="345.80" y="305.10" width="8.20" height="1.50" fill="#b08c48" />
<rect x="345.80" y="307.55" width="8.20" height="1.50" fill="#b08c48" />
<rect x="345.80" y="310.00" width="8.20" height="1.50" fill="#b08c48" />
<rect x="345.80" y="312.45" width="8.20" height="1.50" fill="#b08c48" />
<rect x="345.80" y="314.90" width="8.20" height="1.50" fill="#b08c48" />
<rect x="345.80" y="317.35" width="8.20" height="1.50" fill="#b08c48" />
<rect x="358.80" y="258.50" width="3.50" height="1.20" fill="#c4c4c4" />
<rect x="363.20" y="258.50" width="3.40" height="1.20" fill="#c4c4c4" />
<rect x="358.80" y="260.95" width="3.50" height="1.20" fill="#c4c4c4" />
<rect x="363.20" y="260.95" width="3.40" height="1.20" fill="#c4c4c4" />
<rect x="358.80" y="263.40" width="3.50" height="1.20" fill="#c4c4c4" />
<rect x="363.20" y="263.40" width="3.40" height="1.20" fill="#c4c4c4" />
<rect x="358.80" y="265.85" width="3.50" height="1.20" fill="#c4c4c4" />
<rect x="363.20" y="265.85" width="3.40" height="1.20" fill="#c4c4c4" />
<rect x="358.80" y="268.30" width="3.50" height="1.20" fill="#c4c4c4" />
<rect x="363.20" y="268.30" width="3.40" height="1.20" fill="#c4c4c4" />
<rect x="358.80" y="270.75" width="3.50" height="1.20" fill="#c4c4c4" />
<rect x="363.20" y="270.75" width="3.40" height="1.20" fill="#c4c4c4" />
<rect x="358.80" y="273.20" width="3.50" height="1.20" fill="#c4c4c4" />
<rect x="363.20" y="273.20" width="3.40" height="1.20" fill="#c4c4c4" />
<rect x="358.80" y="285.45" width="3.50" height="1.20" fill="#c4c4c4" />
<rect x="363.20" y="285.45" width="3.40" height="1.20" fill="#c4c4c4" />
<rect x="358.80" y="287.90" width="3.50" height="1.20" fill="#c4c4c4" />
<rect x="363.20" y="287.90" width="3.40" height="1.20" fill="#c4c4c4" />
<rect x="358.80" y="290.35" width="3.50" height="1.20" fill="#c4c4c4" />
<rect x="363.20" y="290.35" width="3.40" height="1.20" fill="#c4c4c4" />
<rect x="358.80" y="292.80" width="3.50" height="1.20" fill="#c4c4c4" />
<rect x="363.20" y="292.80" width="3.40" height="1.20" fill="#c4c4c4" />
<rect x="358.80" y="295.25" width="3.50" height="1.20" fill="#c4c4c4" />
<rect x="363.20" y="295.25" width="3.40" height="1.20" fill="#c4c4c4" />
<rect x="358.80" y="297.70" width="3.50" height="1.20" fill="#c4c4c4" />
<rect x="363.20" y="297.70" width="3.40" height="1.20" fill="#c4c4c4" />
<rect x="358.80" y="300.15" width="3.50" height="1.20" fill="#c4c4c4" />
<rect x="363.20" y="300.15" width="3.40" height="1.20" fill="#c4c4c4" />
<rect x="358.80" y="302.60" width="3.50" height="1.20" fill="#c4c4c4" />
<rect x="363.20" y="302.60" width="3.40" height="1.20" fill="#c4c4c4" />
<rect x="358.80" y="305.05" width="3.50" height="1.20" fill="#c4c4c4" />
<rect x="363.20" y="305.05" width="3.40" height="1.20" fill="#c4c4c4" />
<rect x="358.80" y="307.50" width="3.50" height="1.20" fill="#c4c4c4" />
<rect x="363.20" y="307.50" width="3.40" height="1.20" fill="#c4c4c4" />
<rect x="358.80" y="309.95" width="3.50" height="1.20" fill="#c4c4c4" />
<rect x="363.20" y="309.95" width="3.40" height="1.20" fill="#c4c4c4" />
<rect x="358.80" y="312.40" width="3.50" height="1.20" fill="#c4c4c4" />
<rect x="363.20" y="312.40" width="3.40" height="1.20" fill="#c4c4c4" />
<rect x="358.80" y="314.85" width="3.50" height="1.20" fill="#c4c4c4" />
<rect x="363.20" y="314.85" width="3.40" height="1.20" fill="#c4c4c4" />
<rect x="358.80" y="317.30" width="3.50" height="1.20" fill="#c4c4c4" />
<rect x="363.20" y="317.30" width="3.40" height="1.20" fill="#c4c4c4" />
<rect x="358.80" y="319.75" width="3.50" height="1.20" fill="#c4c4c4" />
<rect x="363.20" y="319.75" width="3.40" height="1.20" fill="#c4c4c4" />
<rect x="361.00" y="247.00" width="3.00" height="3.00" fill="none" stroke="#999" stroke-width="0.7"/>
<rect x="360.50" y="330.50" width="3.00" height="3.00" fill="none" stroke="#999" stroke-width="0.7"/>
<rect x="372.20" y="240.50" width="28.50" height="23.50" fill="#0c0c0c" />
<rect x="374.00" y="252.00" width="25.00" height="12.00" fill="none" stroke="#2c2c2c" stroke-width="1"/>
<rect x="376.50" y="262.50" width="19.00" height="26.00" fill="#454545" />
<rect x="377.50" y="264.00" width="17.00" height="4.00" fill="#3a3a3a" />
<rect x="385.60" y="263.00" width="1.00" height="25.50" fill="#2a2a2a" />
<rect x="378.00" y="283.00" width="16.00" height="1.00" fill="#5a5a5a" />
<rect x="401.50" y="255.00" width="1.20" height="20.00" fill="#6a6a6a" />
<rect x="407.50" y="244.60" width="19.00" height="43.50" fill="#5a5a5a" />
<rect x="409.00" y="247.00" width="9.50" height="39.00" fill="#525252" />
<rect x="418.90" y="256.00" width="7.20" height="29.00" fill="#8a887e" />
<rect x="418.90" y="256.60" width="7.20" height="0.90" fill="#aaa69a" />
<rect x="418.90" y="258.65" width="7.20" height="0.90" fill="#aaa69a" />
<rect x="418.90" y="260.70" width="7.20" height="0.90" fill="#aaa69a" />
<rect x="418.90" y="262.75" width="7.20" height="0.90" fill="#aaa69a" />
<rect x="418.90" y="264.80" width="7.20" height="0.90" fill="#aaa69a" />
<rect x="418.90" y="266.85" width="7.20" height="0.90" fill="#aaa69a" />
<rect x="418.90" y="268.90" width="7.20" height="0.90" fill="#aaa69a" />
<rect x="418.90" y="270.95" width="7.20" height="0.90" fill="#aaa69a" />
<rect x="418.90" y="273.00" width="7.20" height="0.90" fill="#aaa69a" />
<rect x="418.90" y="275.05" width="7.20" height="0.90" fill="#aaa69a" />
<rect x="418.90" y="277.10" width="7.20" height="0.90" fill="#aaa69a" />
<rect x="418.90" y="279.15" width="7.20" height="0.90" fill="#aaa69a" />
<rect x="418.90" y="281.20" width="7.20" height="0.90" fill="#aaa69a" />
<rect x="418.90" y="283.25" width="7.20" height="0.90" fill="#aaa69a" />
<rect x="407.90" y="244.60" width="5.00" height="2.20" fill="#d8d8d8" />
<rect x="407.50" y="286.40" width="5.00" height="2.40" fill="#d0d0d0" />
<rect x="462.80" y="290.80" width="19.20" height="43.80" fill="#5a5a5a" />
<rect x="464.50" y="293.00" width="10.00" height="39.00" fill="#525252" />
<rect x="475.00" y="296.00" width="7.00" height="35.00" fill="#8a887e" />
<rect x="475.00" y="296.60" width="7.00" height="0.90" fill="#aaa69a" />
<rect x="475.00" y="298.65" width="7.00" height="0.90" fill="#aaa69a" />
<rect x="475.00" y="300.70" width="7.00" height="0.90" fill="#aaa69a" />
<rect x="475.00" y="302.75" width="7.00" height="0.90" fill="#aaa69a" />
<rect x="475.00" y="304.80" width="7.00" height="0.90" fill="#aaa69a" />
<rect x="475.00" y="306.85" width="7.00" height="0.90" fill="#aaa69a" />
<rect x="475.00" y="308.90" width="7.00" height="0.90" fill="#aaa69a" />
<rect x="475.00" y="310.95" width="7.00" height="0.90" fill="#aaa69a" />
<rect x="475.00" y="313.00" width="7.00" height="0.90" fill="#aaa69a" />
<rect x="475.00" y="315.05" width="7.00" height="0.90" fill="#aaa69a" />
<rect x="475.00" y="317.10" width="7.00" height="0.90" fill="#aaa69a" />
<rect x="475.00" y="319.15" width="7.00" height="0.90" fill="#aaa69a" />
<rect x="475.00" y="321.20" width="7.00" height="0.90" fill="#aaa69a" />
<rect x="475.00" y="323.25" width="7.00" height="0.90" fill="#aaa69a" />
<rect x="475.00" y="325.30" width="7.00" height="0.90" fill="#aaa69a" />
<rect x="475.00" y="327.35" width="7.00" height="0.90" fill="#aaa69a" />
<rect x="475.00" y="329.40" width="7.00" height="0.90" fill="#aaa69a" />
<rect x="463.00" y="291.00" width="5.50" height="2.60" fill="#d8d8d8" />
<rect x="463.00" y="332.00" width="5.50" height="2.40" fill="#c8c8c8" />
<rect x="400.30" y="256.00" width="1.60" height="18.00" fill="#5a5a5a" />
<rect x="388.60" y="308.60" width="15.70" height="19.30" fill="#3a3a3a" />
<rect x="404.30" y="308.60" width="3.60" height="19.30" fill="#d0d0d0" />
<rect x="435.00" y="308.60" width="15.70" height="19.30" fill="#3a3a3a" />
<rect x="450.70" y="308.60" width="3.60" height="19.30" fill="#d0d0d0" />
<rect x="384.30" y="297.00" width="11.00" height="6.50" fill="#202020" />
<rect x="384.80" y="297.50" width="2.50" height="5.50" fill="#bdbdbd" />
<rect x="392.30" y="297.50" width="2.50" height="5.50" fill="#bdbdbd" />
<rect x="388.30" y="298.50" width="3.00" height="3.50" fill="#666" />
<rect x="431.40" y="297.00" width="11.00" height="6.50" fill="#202020" />
<rect x="431.90" y="297.50" width="2.50" height="5.50" fill="#bdbdbd" />
<rect x="439.40" y="297.50" width="2.50" height="5.50" fill="#bdbdbd" />
<rect x="435.40" y="298.50" width="3.00" height="3.50" fill="#666" />
<rect x="380.00" y="312.00" width="8.00" height="2.00" fill="#b4b4b4" />
<rect x="380.00" y="316.30" width="8.00" height="2.00" fill="#b4b4b4" />
<rect x="380.00" y="320.60" width="8.00" height="2.00" fill="#b4b4b4" />
<rect x="426.00" y="312.00" width="8.00" height="2.00" fill="#b4b4b4" />
<rect x="426.00" y="316.30" width="8.00" height="2.00" fill="#b4b4b4" />
<rect x="426.00" y="320.60" width="8.00" height="2.00" fill="#b4b4b4" />
<rect x="370.70" y="303.00" width="5.00" height="3.00" fill="#9a9a9a" />
<rect x="370.70" y="307.50" width="5.00" height="3.00" fill="#9a9a9a" />
<rect x="370.70" y="312.00" width="5.00" height="3.00" fill="#9a9a9a" />
<rect x="370.70" y="316.50" width="5.00" height="3.00" fill="#9a9a9a" />
<rect x="417.00" y="304.00" width="5.00" height="3.00" fill="#9a9a9a" />
<rect x="417.00" y="308.50" width="5.00" height="3.00" fill="#9a9a9a" />
<rect x="417.00" y="313.00" width="5.00" height="3.00" fill="#9a9a9a" />
<rect x="417.00" y="317.50" width="5.00" height="3.00" fill="#9a9a9a" />
<rect x="374.00" y="326.00" width="4.00" height="4.00" fill="#7a7a7a" />
<rect x="420.00" y="326.00" width="4.00" height="4.00" fill="#7a7a7a" />
<circle cx="470.2" cy="266.6" r="4.5" fill="#f4f4f4"/>
<circle cx="493.2" cy="266.7" r="4.6" fill="#f4f4f4"/>
<circle cx="525.7" cy="266.7" r="4.6" fill="#f4f4f4"/>
<circle cx="563.4" cy="267" r="4.6" fill="#f4f4f4"/>
<circle cx="618.6" cy="267.0" r="4.7" fill="#f4f4f4"/>
<circle cx="580.9" cy="289.5" r="4.6" fill="#f4f4f4"/>
<circle cx="618.6" cy="289.7" r="4.7" fill="#f4f4f4"/>
<circle cx="525.6" cy="312.6" r="4.6" fill="#f4f4f4"/>
<circle cx="548.6" cy="312.6" r="4.6" fill="#f4f4f4"/>
<circle cx="581.4" cy="312.6" r="4.6" fill="#f4f4f4"/>
<circle cx="618.6" cy="312.6" r="4.7" fill="#f4f4f4"/>
<circle cx="400.7" cy="289.5" r="3.7" fill="#f4f4f4"/>
<circle cx="438.6" cy="289.4" r="3.8" fill="#f4f4f4"/>
<circle cx="548.6" cy="312.6" r="3.2" fill="#dcdcdc"/>
<circle cx="618.6" cy="267.0" r="3.0" fill="#e2e2e2"/>
<circle cx="618.6" cy="289.7" r="3.0" fill="#e2e2e2"/>
<circle cx="618.6" cy="312.6" r="3.0" fill="#e2e2e2"/>
<rect x="616.00" y="247.00" width="4.00" height="4.00" fill="none" stroke="#aaa" stroke-width="0.8"/>
<rect x="616.00" y="327.00" width="4.00" height="4.00" fill="none" stroke="#aaa" stroke-width="0.8"/>
<rect x="442.40" y="254.00" width="7.20" height="0.70" fill="#b0b0b0" />
<text x="449.6" y="256.3" font-size="5.6" font-family="Liberation Mono, monospace" fill="#c8c8c8" font-weight="bold" textLength="72.8" lengthAdjust="spacingAndGlyphs">SFF-8643 to NVMe M.2 NGFF SSD</text>
<rect x="495.50" y="325.00" width="8.80" height="0.70" fill="#b0b0b0" />
<text x="505" y="327.3" font-size="5.6" font-family="Liberation Mono, monospace" fill="#c8c8c8" font-weight="bold" textLength="62" lengthAdjust="spacingAndGlyphs">SATA to SATA M.2 NGFF SSD</text>
<text transform="translate(463.2 273) rotate(-90)" font-size="4.6" font-family="Liberation Mono, monospace" fill="#c8c8c8" textLength="11" lengthAdjust="spacingAndGlyphs">2230</text>
<text transform="translate(487.6 273.5) rotate(-90)" font-size="4.6" font-family="Liberation Mono, monospace" fill="#c8c8c8" textLength="11" lengthAdjust="spacingAndGlyphs">2242</text>
<text transform="translate(519.8 273.5) rotate(-90)" font-size="4.6" font-family="Liberation Mono, monospace" fill="#c8c8c8" textLength="11" lengthAdjust="spacingAndGlyphs">2260</text>
<text transform="translate(557.6 273.5) rotate(-90)" font-size="4.6" font-family="Liberation Mono, monospace" fill="#c8c8c8" textLength="11" lengthAdjust="spacingAndGlyphs">2280</text>
<text transform="translate(612.8 276) rotate(-90)" font-size="4.6" font-family="Liberation Mono, monospace" fill="#c8c8c8" textLength="14" lengthAdjust="spacingAndGlyphs">22110</text>
<text transform="translate(520.5 318.5) rotate(-90)" font-size="4.6" font-family="Liberation Mono, monospace" fill="#c8c8c8" textLength="11" lengthAdjust="spacingAndGlyphs">2230</text>
<text transform="translate(543 318.5) rotate(-90)" font-size="4.6" font-family="Liberation Mono, monospace" fill="#c8c8c8" textLength="11" lengthAdjust="spacingAndGlyphs">2242</text>
<text transform="translate(575.7 318.5) rotate(-90)" font-size="4.6" font-family="Liberation Mono, monospace" fill="#c8c8c8" textLength="11" lengthAdjust="spacingAndGlyphs">2260</text>
<text transform="translate(612.8 318.5) rotate(-90)" font-size="4.6" font-family="Liberation Mono, monospace" fill="#c8c8c8" textLength="11" lengthAdjust="spacingAndGlyphs">2280</text>
<text transform="translate(437.5 284.5) rotate(-90)" font-size="4.6" font-family="Liberation Mono, monospace" fill="#c8c8c8" textLength="31" lengthAdjust="spacingAndGlyphs">SATA M.2 SSD</text>
<text transform="translate(490 330) rotate(-90)" font-size="4.6" font-family="Liberation Mono, monospace" fill="#c8c8c8" textLength="29" lengthAdjust="spacingAndGlyphs">SATA M.2 SSD</text>
<circle cx="490" cy="288.6" r="4.8" fill="none" stroke="#cfcfcf" stroke-width="0.8"/>
<text x="487" y="291" font-size="5.5" font-family="Liberation Mono, monospace" fill="#c8c8c8">N</text>
<text x="496.4" y="286.6" font-size="5.2" font-family="Liberation Serif, serif" font-weight="bold" fill="#e0e0e0" textLength="30" lengthAdjust="spacingAndGlyphs">NFHK</text>
<text x="496" y="290.6" font-size="3.8" font-family="Liberation Mono, monospace" fill="#c8c8c8" textLength="37" lengthAdjust="spacingAndGlyphs">SSTK Model N-M2SATA</text>
<text x="496" y="294.3" font-size="3.8" font-family="Liberation Mono, monospace" fill="#c8c8c8" textLength="37" lengthAdjust="spacingAndGlyphs">Made In China Ver 1.0</text>
<rect x="536.00" y="284.20" width="2.30" height="9.40" fill="#ececec" />
<rect x="536.00" y="284.20" width="6.20" height="2.00" fill="#ececec" />
<rect x="536.00" y="288.10" width="5.20" height="1.90" fill="#ececec" />
<path d="M550.12 285.94 A4.6 4.6 0 1 0 550.12 291.86" stroke="#ececec" stroke-width="1.05" fill="none"/>
<path d="M548.90 286.97 A3.0 3.0 0 1 0 548.90 290.83" stroke="#ececec" stroke-width="1.05" fill="none"/>
<path d="M547.71 287.97 A1.45 1.45 0 1 0 547.71 289.83" stroke="#ececec" stroke-width="1.05" fill="none"/>
<path d="M560.20 285.54 A4.0 4.0 0 1 0 560.20 292.46" stroke="#e8e8e8" stroke-width="1.3" fill="none"/>
<path d="M564.60 285.00 A4.0 4.0 0 0 0 564.60 293.00" stroke="#e8e8e8" stroke-width="1.3" fill="none"/>
<rect x="561.20" y="288.40" width="3.60" height="1.20" fill="#e8e8e8" />
<circle cx="570.6" cy="289.2" r="3.9" fill="none" stroke="#d0d0d0" stroke-width="0.9"/>
<path d="M568.5 288 Q570 286 570.6 288 Q571 290 568.6 291 L571 291 M571.5 287 Q573.5 287 573 289.5 Q572.5 291.5 571.5 290" stroke="#d0d0d0" stroke-width="0.7" fill="none"/>
</g>
<!-- SATA cable -->
<rect x="350" y="488" width="13.5" height="54" fill="#c6c6c6"/>
<path d="M414 459 C415.5 478 406 497.5 399 501.5" stroke="#939393" stroke-width="1.9" fill="none"/>
<path d="M421 459 C422.5 480 412 499.6 399 503.1" stroke="#939393" stroke-width="1.9" fill="none"/>
<path d="M426 459 C427.5 482 416 501.7 399 504.7" stroke="#939393" stroke-width="1.9" fill="none"/>
<path d="M431 459 C432.5 484 420 503.8 399 506.3" stroke="#939393" stroke-width="1.9" fill="none"/>
<path d="M436.5 459 C438.0 486 424.5 505.9 399 507.9" stroke="#939393" stroke-width="1.9" fill="none"/>
<rect x="363" y="487" width="25.5" height="57" rx="3" fill="#969696"/>
<rect x="386" y="498" width="13" height="35" rx="2.5" fill="#969696"/>
<rect x="397.6" y="513.7" width="15.4" height="8.1" fill="#9a9a9a"/>
<text transform="translate(380 530.5) rotate(-90)" font-size="12.2" font-family="Liberation Sans, sans-serif" fill="#ffffff" textLength="32" lengthAdjust="spacingAndGlyphs">SATA</text>
<g>
<path d="M403.1 437.9 L445.1 437.9 L445.1 458.5 Q445.1 460.4 443 460.4 L405 460.4 Q403.1 460.4 403.1 458.5 Z" fill="#939393"/>
<rect x="407" y="437.9" width="35.6" height="8.8" fill="#fafafa"/>
<rect x="410.4" y="437.9" width="28.3" height="8.4" fill="#9a9a9a"/>
<rect x="411.50" y="440.6" width="0.9" height="5.6" fill="#f2f2f2"/>
<rect x="413.25" y="440.6" width="0.9" height="5.6" fill="#f2f2f2"/>
<rect x="415.00" y="440.6" width="0.9" height="5.6" fill="#f2f2f2"/>
<rect x="416.75" y="440.6" width="0.9" height="5.6" fill="#f2f2f2"/>
<rect x="418.50" y="440.6" width="0.9" height="5.6" fill="#f2f2f2"/>
<rect x="420.25" y="440.6" width="0.9" height="5.6" fill="#f2f2f2"/>
<rect x="422.00" y="440.6" width="0.9" height="5.6" fill="#f2f2f2"/>
<rect x="423.75" y="440.6" width="0.9" height="5.6" fill="#f2f2f2"/>
<rect x="425.50" y="440.6" width="0.9" height="5.6" fill="#f2f2f2"/>
<rect x="427.25" y="440.6" width="0.9" height="5.6" fill="#f2f2f2"/>
<rect x="429.00" y="440.6" width="0.9" height="5.6" fill="#f2f2f2"/>
<rect x="430.75" y="440.6" width="0.9" height="5.6" fill="#f2f2f2"/>
<rect x="432.50" y="440.6" width="0.9" height="5.6" fill="#f2f2f2"/>
<rect x="434.25" y="440.6" width="0.9" height="5.6" fill="#f2f2f2"/>
<rect x="436.00" y="440.6" width="0.9" height="5.6" fill="#f2f2f2"/>
<rect x="437.75" y="440.6" width="0.9" height="5.6" fill="#f2f2f2"/>
<text x="411.7" y="456.1" font-size="8.4" font-family="Liberation Sans, sans-serif" fill="#ffffff" textLength="24" lengthAdjust="spacingAndGlyphs">Power</text>
</g>
<rect x="428.2" y="513.7" width="8.5" height="8.1" fill="#9a9a9a"/>
<rect x="436.1" y="510.2" width="7" height="15.4" fill="#939393"/>
<rect x="442.6" y="507.3" width="19.4" height="21.6" fill="#8e8e8e"/>
<rect x="461.9" y="509" width="9.9" height="18.3" fill="#c4c4c4"/>
<!-- red pointer 2 -->
<path d="M208.8 471 L208.8 446.5 L356.6 446.5 L356.6 488" stroke="#e0141a" stroke-width="2.5" fill="none" stroke-linejoin="round"/>
<circle cx="209.3" cy="470.6" r="3.3" fill="#e0141a"/>
<circle cx="356.6" cy="488" r="3.6" fill="#e0141a"/>

<g transform="translate(473.3 434) scale(0.987)">
<rect x="0.00" y="0.00" width="178.00" height="128.00" fill="#c8c8c8" />
<rect x="100.40" y="-5.00" width="13.50" height="5.50" fill="#c8c8c8" />
<rect x="120.00" y="-5.00" width="3.20" height="5.50" fill="#c8c8c8" />
<rect x="129.30" y="-3.00" width="4.10" height="3.50" fill="#c8c8c8" />
<rect x="138.50" y="-3.00" width="3.60" height="3.50" fill="#c8c8c8" />
<rect x="148.30" y="-5.00" width="9.30" height="5.50" fill="#c8c8c8" />
<rect x="161.40" y="-5.00" width="9.30" height="5.50" fill="#c8c8c8" />
<circle cx="3.2" cy="3.5" r="2.5" fill="#ffffff"/>
<circle cx="174.3" cy="3.5" r="2.5" fill="#ffffff"/>
<circle cx="3.4" cy="124.1" r="2.5" fill="#ffffff"/>
<circle cx="174.4" cy="124" r="2.5" fill="#ffffff"/>
<rect x="9.00" y="6.70" width="6.20" height="45.30" fill="#ffffff" />
<rect x="20.60" y="6.70" width="6.40" height="45.30" fill="#ffffff" />
<rect x="32.40" y="6.70" width="6.30" height="45.30" fill="#ffffff" />
<rect x="43.90" y="6.70" width="6.20" height="45.30" fill="#ffffff" />
<rect x="55.60" y="6.70" width="6.40" height="19.30" fill="#ffffff" />
<rect x="70.30" y="6.70" width="6.00" height="64.30" fill="#ffffff" />
<rect x="91.70" y="6.70" width="5.60" height="64.30" fill="#ffffff" />
<rect x="108.00" y="13.60" width="8.20" height="3.30" fill="#ffffff" />
<rect x="4.10" y="79.90" width="3.20" height="11.50" fill="#ffffff" />
<rect x="9.90" y="79.90" width="3.10" height="11.50" fill="#ffffff" />
<rect x="9.90" y="103.90" width="10.80" height="2.80" fill="#ffffff" />
<rect x="9.90" y="108.90" width="10.80" height="2.80" fill="#ffffff" />
<rect x="23.70" y="103.90" width="10.80" height="2.80" fill="#ffffff" />
<rect x="23.70" y="108.90" width="10.80" height="2.80" fill="#ffffff" />
<rect x="9.90" y="122.00" width="25.70" height="2.90" fill="#ffffff" />
<rect x="39.60" y="122.00" width="36.70" height="2.90" fill="#ffffff" />
<rect x="102.00" y="87.70" width="3.10" height="8.30" fill="#ffffff" />
<rect x="108.00" y="115.70" width="37.00" height="8.60" fill="#ffffff" />
<rect x="116.14" y="29.40" width="37.37" height="37.37" fill="#ffffff" />
<rect x="118.30" y="28.40" width="1.60" height="39.37" fill="#ffffff" />
<rect x="115.14" y="31.57" width="39.37" height="1.60" fill="#ffffff" />
<rect x="122.23" y="28.40" width="1.60" height="39.37" fill="#ffffff" />
<rect x="115.14" y="35.50" width="39.37" height="1.60" fill="#ffffff" />
<rect x="126.16" y="28.40" width="1.60" height="39.37" fill="#ffffff" />
<rect x="115.14" y="39.43" width="39.37" height="1.60" fill="#ffffff" />
<rect x="130.09" y="28.40" width="1.60" height="39.37" fill="#ffffff" />
<rect x="115.14" y="43.36" width="39.37" height="1.60" fill="#ffffff" />
<rect x="134.02" y="28.40" width="1.60" height="39.37" fill="#ffffff" />
<rect x="115.14" y="47.29" width="39.37" height="1.60" fill="#ffffff" />
<rect x="137.95" y="28.40" width="1.60" height="39.37" fill="#ffffff" />
<rect x="115.14" y="51.22" width="39.37" height="1.60" fill="#ffffff" />
<rect x="141.88" y="28.40" width="1.60" height="39.37" fill="#ffffff" />
<rect x="115.14" y="55.15" width="39.37" height="1.60" fill="#ffffff" />
<rect x="145.81" y="28.40" width="1.60" height="39.37" fill="#ffffff" />
<rect x="115.14" y="59.08" width="39.37" height="1.60" fill="#ffffff" />
<rect x="149.74" y="28.40" width="1.60" height="39.37" fill="#ffffff" />
<rect x="115.14" y="63.01" width="39.37" height="1.60" fill="#ffffff" />
<rect x="115.94" y="29.20" width="2.40" height="2.40" fill="#c8c8c8" />
<rect x="115.94" y="33.13" width="2.40" height="2.40" fill="#c8c8c8" />
<rect x="115.94" y="37.06" width="2.40" height="2.40" fill="#c8c8c8" />
<rect x="115.94" y="40.99" width="2.40" height="2.40" fill="#c8c8c8" />
<rect x="115.94" y="44.92" width="2.40" height="2.40" fill="#c8c8c8" />
<rect x="115.94" y="48.85" width="2.40" height="2.40" fill="#c8c8c8" />
<rect x="115.94" y="52.78" width="2.40" height="2.40" fill="#c8c8c8" />
<rect x="115.94" y="56.71" width="2.40" height="2.40" fill="#c8c8c8" />
<rect x="115.94" y="60.64" width="2.40" height="2.40" fill="#c8c8c8" />
<rect x="115.94" y="64.57" width="2.40" height="2.40" fill="#c8c8c8" />
<rect x="119.87" y="29.20" width="2.40" height="2.40" fill="#c8c8c8" />
<rect x="119.87" y="33.13" width="2.40" height="2.40" fill="#c8c8c8" />
<rect x="119.87" y="37.06" width="2.40" height="2.40" fill="#c8c8c8" />
<rect x="119.87" y="40.99" width="2.40" height="2.40" fill="#c8c8c8" />
<rect x="119.87" y="44.92" width="2.40" height="2.40" fill="#c8c8c8" />
<rect x="119.87" y="48.85" width="2.40" height="2.40" fill="#c8c8c8" />
<rect x="119.87" y="52.78" width="2.40" height="2.40" fill="#c8c8c8" />
<rect x="119.87" y="56.71" width="2.40" height="2.40" fill="#c8c8c8" />
<rect x="119.87" y="60.64" width="2.40" height="2.40" fill="#c8c8c8" />
<rect x="119.87" y="64.57" width="2.40" height="2.40" fill="#c8c8c8" />
<rect x="123.80" y="29.20" width="2.40" height="2.40" fill="#c8c8c8" />
<rect x="123.80" y="33.13" width="2.40" height="2.40" fill="#c8c8c8" />
<rect x="123.80" y="37.06" width="2.40" height="2.40" fill="#c8c8c8" />
<rect x="123.80" y="40.99" width="2.40" height="2.40" fill="#c8c8c8" />
<rect x="123.80" y="44.92" width="2.40" height="2.40" fill="#c8c8c8" />
<rect x="123.80" y="48.85" width="2.40" height="2.40" fill="#c8c8c8" />
<rect x="123.80" y="52.78" width="2.40" height="2.40" fill="#c8c8c8" />
<rect x="123.80" y="56.71" width="2.40" height="2.40" fill="#c8c8c8" />
<rect x="123.80" y="60.64" width="2.40" height="2.40" fill="#c8c8c8" />
<rect x="123.80" y="64.57" width="2.40" height="2.40" fill="#c8c8c8" />
<rect x="127.73" y="29.20" width="2.40" height="2.40" fill="#c8c8c8" />
<rect x="127.73" y="33.13" width="2.40" height="2.40" fill="#c8c8c8" />
<rect x="127.73" y="37.06" width="2.40" height="2.40" fill="#c8c8c8" />
<rect x="127.73" y="56.71" width="2.40" height="2.40" fill="#c8c8c8" />
<rect x="127.73" y="60.64" width="2.40" height="2.40" fill="#c8c8c8" />
<rect x="127.73" y="64.57" width="2.40" height="2.40" fill="#c8c8c8" />
<rect x="131.66" y="29.20" width="2.40" height="2.40" fill="#c8c8c8" />
<rect x="131.66" y="33.13" width="2.40" height="2.40" fill="#c8c8c8" />
<rect x="131.66" y="37.06" width="2.40" height="2.40" fill="#c8c8c8" />
<rect x="131.66" y="56.71" width="2.40" height="2.40" fill="#c8c8c8" />
<rect x="131.66" y="60.64" width="2.40" height="2.40" fill="#c8c8c8" />
<rect x="131.66" y="64.57" width="2.40" height="2.40" fill="#c8c8c8" />
<rect x="135.59" y="29.20" width="2.40" height="2.40" fill="#c8c8c8" />
<rect x="135.59" y="33.13" width="2.40" height="2.40" fill="#c8c8c8" />
<rect x="135.59" y="37.06" width="2.40" height="2.40" fill="#c8c8c8" />
<rect x="135.59" y="56.71" width="2.40" height="2.40" fill="#c8c8c8" />
<rect x="135.59" y="60.64" width="2.40" height="2.40" fill="#c8c8c8" />
<rect x="135.59" y="64.57" width="2.40" height="2.40" fill="#c8c8c8" />
<rect x="139.52" y="29.20" width="2.40" height="2.40" fill="#c8c8c8" />
<rect x="139.52" y="33.13" width="2.40" height="2.40" fill="#c8c8c8" />
<rect x="139.52" y="37.06" width="2.40" height="2.40" fill="#c8c8c8" />
<rect x="139.52" y="56.71" width="2.40" height="2.40" fill="#c8c8c8" />
<rect x="139.52" y="60.64" width="2.40" height="2.40" fill="#c8c8c8" />
<rect x="139.52" y="64.57" width="2.40" height="2.40" fill="#c8c8c8" />
<rect x="143.45" y="29.20" width="2.40" height="2.40" fill="#c8c8c8" />
<rect x="143.45" y="33.13" width="2.40" height="2.40" fill="#c8c8c8" />
<rect x="143.45" y="37.06" width="2.40" height="2.40" fill="#c8c8c8" />
<rect x="143.45" y="40.99" width="2.40" height="2.40" fill="#c8c8c8" />
<rect x="143.45" y="44.92" width="2.40" height="2.40" fill="#c8c8c8" />
<rect x="143.45" y="48.85" width="2.40" height="2.40" fill="#c8c8c8" />
<rect x="143.45" y="52.78" width="2.40" height="2.40" fill="#c8c8c8" />
<rect x="143.45" y="56.71" width="2.40" height="2.40" fill="#c8c8c8" />
<rect x="143.45" y="60.64" width="2.40" height="2.40" fill="#c8c8c8" />
<rect x="143.45" y="64.57" width="2.40" height="2.40" fill="#c8c8c8" />
<rect x="147.38" y="29.20" width="2.40" height="2.40" fill="#c8c8c8" />
<rect x="147.38" y="33.13" width="2.40" height="2.40" fill="#c8c8c8" />
<rect x="147.38" y="37.06" width="2.40" height="2.40" fill="#c8c8c8" />
<rect x="147.38" y="40.99" width="2.40" height="2.40" fill="#c8c8c8" />
<rect x="147.38" y="44.92" width="2.40" height="2.40" fill="#c8c8c8" />
<rect x="147.38" y="48.85" width="2.40" height="2.40" fill="#c8c8c8" />
<rect x="147.38" y="52.78" width="2.40" height="2.40" fill="#c8c8c8" />
<rect x="147.38" y="56.71" width="2.40" height="2.40" fill="#c8c8c8" />
<rect x="147.38" y="60.64" width="2.40" height="2.40" fill="#c8c8c8" />
<rect x="147.38" y="64.57" width="2.40" height="2.40" fill="#c8c8c8" />
<rect x="151.31" y="29.20" width="2.40" height="2.40" fill="#c8c8c8" />
<rect x="151.31" y="33.13" width="2.40" height="2.40" fill="#c8c8c8" />
<rect x="151.31" y="37.06" width="2.40" height="2.40" fill="#c8c8c8" />
<rect x="151.31" y="40.99" width="2.40" height="2.40" fill="#c8c8c8" />
<rect x="151.31" y="44.92" width="2.40" height="2.40" fill="#c8c8c8" />
<rect x="151.31" y="48.85" width="2.40" height="2.40" fill="#c8c8c8" />
<rect x="151.31" y="52.78" width="2.40" height="2.40" fill="#c8c8c8" />
<rect x="151.31" y="56.71" width="2.40" height="2.40" fill="#c8c8c8" />
<rect x="151.31" y="60.64" width="2.40" height="2.40" fill="#c8c8c8" />
<rect x="151.31" y="64.57" width="2.40" height="2.40" fill="#c8c8c8" />
</g>
<text x="502" y="523.1" font-size="12.7" font-family="Liberation Sans, sans-serif" fill="#ffffff" textLength="62.3" lengthAdjust="spacingAndGlyphs">Mainboard</text>

<text x="122.9" y="597.6" font-size="17.2" font-weight="bold" font-family="Liberation Sans, sans-serif" fill="#111" textLength="222.5" lengthAdjust="spacingAndGlyphs">NGFF B/M-key SATA SSD</text>
</svg>
</body></html>
